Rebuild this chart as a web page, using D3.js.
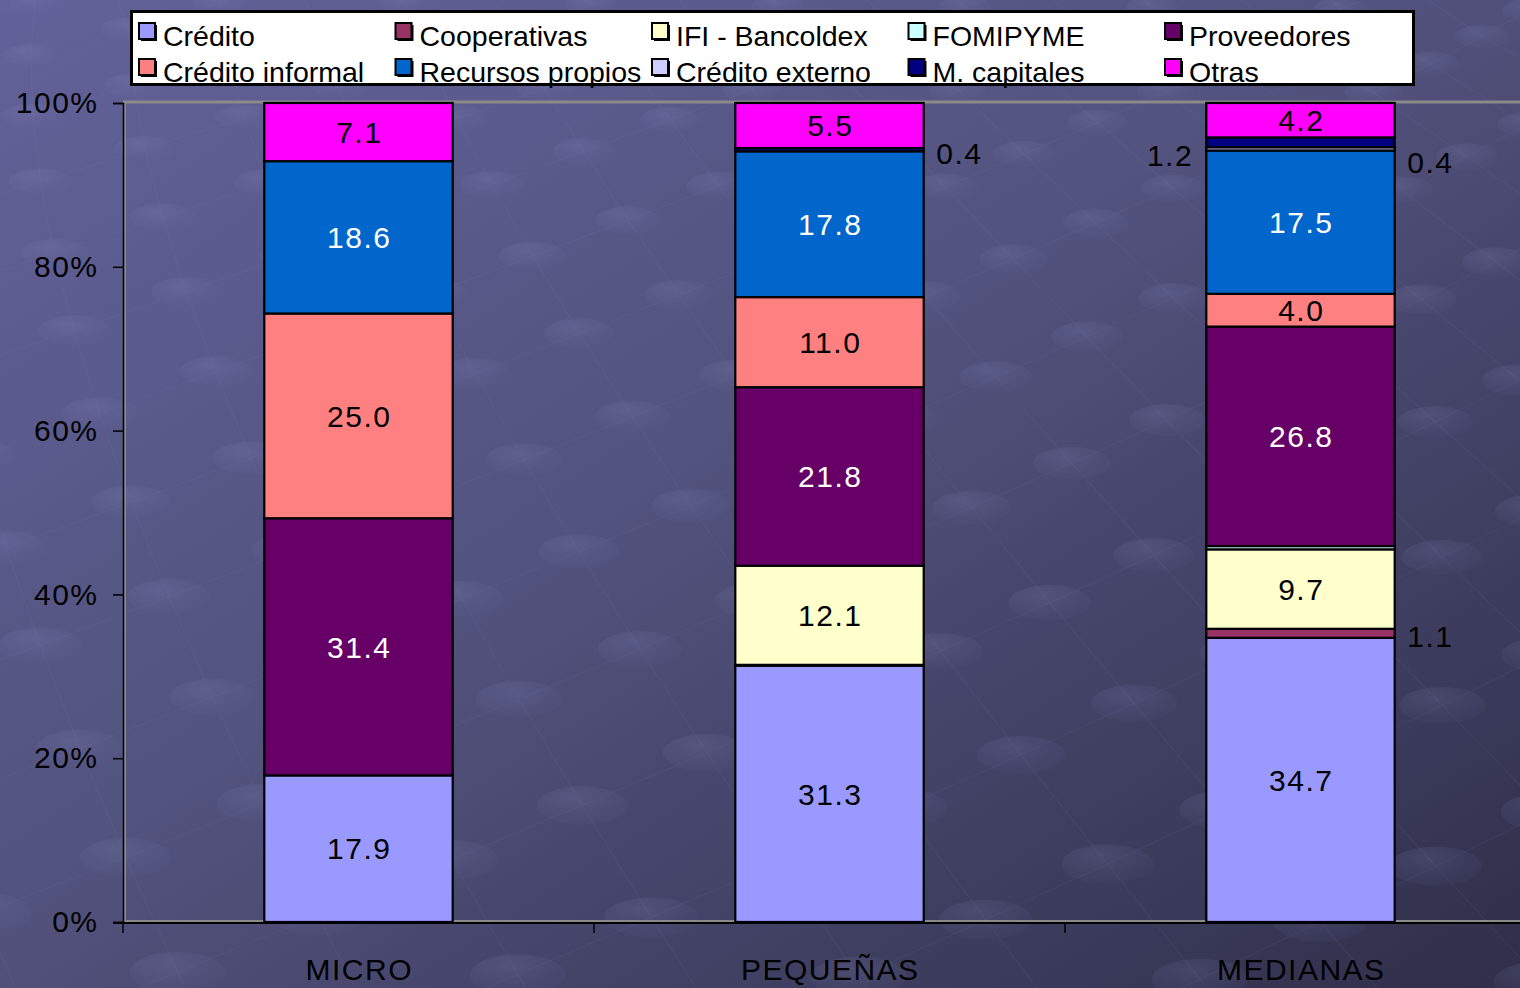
<!DOCTYPE html>
<html>
<head>
<meta charset="utf-8">
<script src="https://cdn.jsdelivr.net/npm/d3@7"></script>
<style>
  html, body { margin: 0; padding: 0; background: #4a4a78; overflow: hidden; }
  svg { display: block; }
  text { font-family: "Liberation Sans", Arial, sans-serif; }
</style>
</head>
<body>
<svg id="chart" width="1520" height="988"></svg>
<script>
// Financing sources by company size (percent of total)
const categories = ["MICRO", "PEQUEÑAS", "MEDIANAS"];
const seriesNames = ["Crédito", "Cooperativas", "IFI - Bancoldex", "FOMIPYME", "Proveedores",
                     "Crédito informal", "Recursos propios", "Crédito externo", "M. capitales", "Otras"];

const credito         = [17.9, 31.3, 34.7];
const cooperativas    = [0.0,  0.1,  1.1];
const ifiBancoldex    = [0.0,  12.1, 9.7];
const fomipyme        = [0.0,  0.0,  0.4];
const proveedores     = [31.4, 21.8, 26.8];
const creditoInformal = [25.0, 11.0, 4.0];
const recursosPropios = [18.6, 17.8, 17.5];
const creditoExterno  = [0.0,  0.0,  0.4];
const mCapitales      = [0.0,  0.4,  1.2];
const otras           = [7.1,  5.5,  4.2];

const yTicks = [0, 20, 40, 60, 80, 100];

// Small segments labelled beside the bar instead of inside it
const outsideLabels = [
  { cat: "PEQUEÑAS", series: "M. capitales",    side: "right" },
  { cat: "MEDIANAS", series: "M. capitales",    side: "left"  },
  { cat: "MEDIANAS", series: "Crédito externo", side: "right" },
  { cat: "MEDIANAS", series: "Cooperativas",    side: "right" }
];

const seriesValues = [credito, cooperativas, ifiBancoldex, fomipyme, proveedores,
                      creditoInformal, recursosPropios, creditoExterno, mCapitales, otras];

const colors = ["#9999FF", "#993366", "#FFFFCC", "#CCFFFF", "#660066",
                "#FF8080", "#0066CC", "#CCCCFF", "#000080", "#FF00FF"];
const darkSeries = new Set(["Proveedores", "Recursos propios"]);

const rows = categories.map((c, i) => {
  const r = { category: c };
  seriesNames.forEach((s, k) => { r[s] = seriesValues[k][i]; });
  return r;
});

const W = 1520, H = 988;
const svg = d3.select("#chart");

// ---- background ----
const defs = svg.append("defs");
const bg = defs.append("linearGradient").attr("id", "bg")
  .attr("x1", "0").attr("y1", "0").attr("x2", "1").attr("y2", "1");
bg.append("stop").attr("offset", "0").attr("stop-color", "#62629a");
bg.append("stop").attr("offset", "0.45").attr("stop-color", "#53537f");
bg.append("stop").attr("offset", "1").attr("stop-color", "#2f2f4a");
svg.append("rect").attr("width", W).attr("height", H).attr("fill", "url(#bg)");

const node = defs.append("radialGradient").attr("id", "node")
  .attr("cx", "0.4").attr("cy", "0.3").attr("r", "0.7");
node.append("stop").attr("offset", "0").attr("stop-color", "#9a9ad0").attr("stop-opacity", 0.16);
node.append("stop").attr("offset", "1").attr("stop-color", "#6a6aa0").attr("stop-opacity", 0.06);

// faint lattice of connected discs, spreading out towards the bottom
const texture = svg.append("g");
const origin = [530, 157], u = [72, -25], v = [41, 51];
const cx0 = 700;
function warp(p) {
  const s = 1 + Math.max(0, p[1]) / 700;
  return [cx0 + (p[0] - cx0) * s, p[1] * (1 + Math.max(0, p[1]) / 900)];
}
const pts = [];
for (let i = -40; i <= 40; i++) {
  for (let j = -30; j <= 30; j++) {
    const x = origin[0] + i * u[0] + j * v[0];
    const y = origin[1] + i * u[1] + j * v[1];
    if (y > -80 && y < 700 && x > -1200 && x < 2600) pts.push([x, y]);
  }
}
pts.forEach(p => {
  [u, v].forEach(d => {
    const a = warp(p), b = warp([p[0] + d[0], p[1] + d[1]]);
    if (a[0] < -100 || a[0] > W + 100 || a[1] > H + 100) return;
    texture.append("line")
      .attr("x1", a[0]).attr("y1", a[1]).attr("x2", b[0]).attr("y2", b[1])
      .attr("stroke", "#8c8cc4").attr("stroke-opacity", 0.07).attr("stroke-width", 1.5);
  });
});
pts.forEach(p => {
  const a = warp(p);
  if (a[0] < -100 || a[0] > W + 100 || a[1] > H + 100) return;
  const s = 1 + Math.max(0, p[1]) / 700;
  texture.append("ellipse").attr("cx", a[0]).attr("cy", a[1])
    .attr("rx", 26 * s).attr("ry", 11 * s).attr("fill", "url(#node)");
});

// ---- scales ----
const y = d3.scaleLinear().domain([0, 100]).range([922, 103]);
const x = d3.scaleBand().domain(categories).range([123, 1536])
  .paddingInner(0.6).paddingOuter(0.3);
const step = x.step();

// plot area frame
svg.append("rect")
  .attr("x", 124.5).attr("y", 102).attr("width", 1600).attr("height", 819.5)
  .attr("fill", "none").attr("stroke", "#8a8a8a").attr("stroke-width", 3);

// ---- stacked bars ----
const stack = d3.stack().keys(seriesNames)(rows);

const layers = svg.append("g").selectAll("g").data(stack).join("g")
  .attr("fill", (d, i) => colors[i]);

layers.selectAll("rect").data(d => d.map(s => ({ s, key: d.key })))
  .join("rect")
  .attr("x", d => x(d.s.data.category))
  .attr("width", x.bandwidth())
  .attr("y", d => y(d.s[1]))
  .attr("height", d => Math.max(0, y(d.s[0]) - y(d.s[1])))
  .attr("stroke", "#000").attr("stroke-width", 2.2)
  .style("display", d => (d.s[1] - d.s[0]) > 0 ? null : "none");

// labels inside segments
const labelFont = 30, spacing = 1.5;
const inside = [];
stack.forEach(layer => layer.forEach(s => {
  const val = s[1] - s[0];
  if (val >= 4) inside.push({ key: layer.key, s, val });
}));
svg.append("g").selectAll("text").data(inside).join("text")
  .attr("x", d => x(d.s.data.category) + x.bandwidth() / 2 + spacing / 2)
  .attr("y", d => y((d.s[0] + d.s[1]) / 2))
  .attr("dy", "0.36em")
  .attr("text-anchor", "middle")
  .attr("font-size", labelFont).attr("letter-spacing", spacing)
  .attr("fill", d => darkSeries.has(d.key) ? "#fff" : "#000")
  .text(d => d3.format(".1f")(d.val));

// labels beside the thin segments
const sideNudge = [4, 13, 13, 3];
svg.append("g").selectAll("text").data(outsideLabels).join("text")
  .each(function (d, i) {
    const layer = stack.find(l => l.key === d.series);
    const s = layer[categories.indexOf(d.cat)];
    const bx = x(d.cat);
    const cx = d.side === "right" ? bx + x.bandwidth() + 35 : bx - 37;
    d3.select(this)
      .attr("x", cx + spacing / 2)
      .attr("y", y((s[0] + s[1]) / 2) + sideNudge[i])
      .attr("dy", "0.36em")
      .attr("text-anchor", "middle")
      .attr("font-size", labelFont).attr("letter-spacing", spacing)
      .attr("fill", "#000")
      .text(d3.format(".1f")(s[1] - s[0]));
  });

// ---- axes ----
const yAxis = svg.append("g").attr("transform", "translate(123,0)")
  .call(d3.axisLeft(y).tickValues(yTicks).tickFormat(d => d + "%")
    .tickSize(10).tickPadding(14.5));
yAxis.select(".domain").attr("stroke", "#000").attr("stroke-width", 1.5);
yAxis.selectAll(".tick line").attr("stroke", "#000").attr("stroke-width", 1.5);
yAxis.selectAll(".tick text")
  .attr("font-size", labelFont).attr("letter-spacing", spacing)
  .attr("font-family", "Liberation Sans, Arial, sans-serif")
  .attr("fill", "#000");

// category axis with ticks between groups
const xAxis = svg.append("g");
xAxis.append("line").attr("x1", 113).attr("x2", W + 20)
  .attr("y1", 923).attr("y2", 923).attr("stroke", "#000").attr("stroke-width", 2);
const bounds = categories.map(c => x(c) - step * x.paddingInner() / 2)
  .concat([x(categories[categories.length - 1]) + x.bandwidth() + step * x.paddingInner() / 2]);
xAxis.selectAll("line.tick").data(bounds).join("line").attr("class", "tick")
  .attr("x1", d => d).attr("x2", d => d).attr("y1", 923).attr("y2", 933)
  .attr("stroke", "#000").attr("stroke-width", 1.5);
xAxis.selectAll("text").data(categories).join("text")
  .attr("x", d => x(d) + x.bandwidth() / 2 + spacing / 2)
  .attr("y", 980)
  .attr("text-anchor", "middle")
  .attr("font-size", labelFont).attr("letter-spacing", spacing)
  .attr("fill", "#000")
  .text(d => d);

// ---- legend ----
const legend = svg.append("g");
legend.append("rect").attr("x", 131.5).attr("y", 11.5).attr("width", 1282).attr("height", 73)
  .attr("fill", "#fff").attr("stroke", "#000").attr("stroke-width", 3);
const items = legend.selectAll("g.item").data(seriesNames).join("g").attr("class", "item")
  .attr("transform", (d, i) => `translate(${139 + (i % 5) * 256.5},${i < 5 ? 23 : 59})`);
items.append("rect").attr("x", 2).attr("y", 2).attr("width", 16).attr("height", 16)
  .attr("fill", "#000");
items.append("rect").attr("x", 0).attr("y", 0).attr("width", 16).attr("height", 16)
  .attr("fill", (d, i) => colors[i]).attr("stroke", "#000").attr("stroke-width", 2);
items.append("text").attr("x", 24).attr("y", 22.5)
  .attr("font-size", 28.5).attr("fill", "#000")
  .text(d => d);
</script>
</body>
</html>
